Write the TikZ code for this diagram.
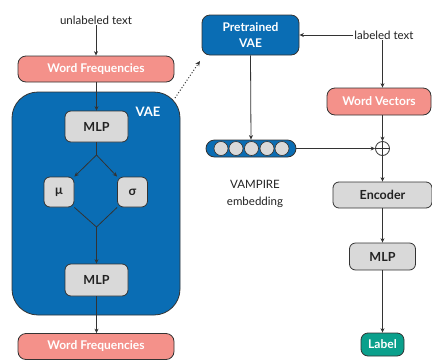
\documentclass[tikz,border=0pt]{standalone}
\usepackage{fontspec}
\setmainfont{Lato}
\usetikzlibrary{arrows.meta}
\definecolor{vaeblue}{HTML}{0A6DB4}
\definecolor{salmon}{HTML}{F4918A}
\definecolor{boxgrey}{HTML}{D9D9D9}
\definecolor{teal}{HTML}{0AA08C}
\definecolor{edge}{HTML}{333333}
\definecolor{txt}{HTML}{222222}
\tikzset{
  base/.style={draw=edge, line width=0.8pt, inner sep=0pt, align=center},
  salmonbox/.style={base, fill=salmon, text=white, rounded corners=8pt, font=\fontsize{12}{13}\selectfont\bfseries},
  greybox/.style={base, fill=boxgrey, text=txt, rounded corners=6pt, font=\fontsize{12.5}{13}\selectfont\bfseries},
  bluebox/.style={base, fill=vaeblue, text=white, rounded corners=8pt, font=\fontsize{12}{16}\selectfont\bfseries},
  plain/.style={text=txt, font=\fontsize{11.5}{13}\selectfont, inner sep=1pt},
  conn/.style={draw=edge, line width=0.8pt, -{Stealth[length=4.5pt,width=4pt]}},
  line/.style={draw=edge, line width=0.8pt},
}
\begin{document}
\begin{tikzpicture}[x=1pt,y=-1pt]
\useasboundingbox (0,0) rectangle (432,360);

% left column: VAE training
\node[plain] (unl) at (96,20) {unlabeled text};
\node[salmonbox, minimum width=156pt, minimum height=26pt] (wf1) at (96,69) {Word Frequencies};
\node[base, fill=vaeblue, rounded corners=26pt, minimum width=168pt, minimum height=223pt] (vae) at (96,203.5) {};
\node[text=white, font=\fontsize{13}{13}\selectfont\bfseries] (vaelbl) at (148,112) {VAE};
\node[greybox, minimum width=63pt, minimum height=31pt] (mlp1) at (96.5,126.5) {MLP};
\node[greybox, minimum width=30pt, minimum height=30pt] (mu) at (59,192) {µ};
\node[greybox, minimum width=30pt, minimum height=30pt] (sigma) at (132.5,192) {σ};
\node[greybox, minimum width=63pt, minimum height=32pt] (mlp2) at (96.5,280) {MLP};
\node[salmonbox, minimum width=156pt, minimum height=26pt] (wf2) at (96,346.5) {Word Frequencies};
\coordinate (split) at (96.5,155);
\coordinate (merge) at (96.5,227);

\draw[conn] (unl.south) -- (unl.south |- wf1.north);
\draw[conn] (wf1.south -| mlp1.north) -- (mlp1.north);
\draw[line] (mlp1.south) -- (split);
\draw[conn] (split) -- (mu.north east);
\draw[conn] (split) -- (sigma.north west);
\draw[line] (mu.south east) -- (merge);
\draw[line] (sigma.south west) -- (merge);
\draw[conn] (merge) -- (mlp2.north);
\draw[conn] (mlp2.south) -- (mlp2.south |- wf2.north);

% right side: classifier
\node[bluebox, minimum width=97pt, minimum height=40pt] (pvae) at (250.5,35) {Pretrained\\VAE};
\node[plain] (lab) at (384,35) {labeled text};
\node[salmonbox, minimum width=104pt, minimum height=27pt] (wv) at (379,101.5) {Word Vectors};
\node[base, fill=vaeblue, rounded corners=8.5pt, minimum width=90pt, minimum height=17pt] (emb) at (251,148.5) {};
\foreach \i/\x in {1/221,2/236,3/251.5,4/267,5/282}
  \node[draw=edge, line width=0.6pt, fill=boxgrey, circle, minimum size=14pt, inner sep=0pt] (e\i) at (\x,148.5) {};
\node[plain, align=center, font=\fontsize{11.5}{17}\selectfont] (vtxt) at (255,193.5) {VAMPIRE\\embedding};
\node[draw=edge, line width=0.8pt, fill=white, circle, minimum size=14pt, inner sep=0pt] (plus) at (382.5,148.5) {};
\draw[edge, line width=0.8pt] (plus.north) -- (plus.south) (plus.west) -- (plus.east);
\node[greybox, minimum width=99pt, minimum height=26pt] (enc) at (382.5,195) {Encoder};
\node[greybox, minimum width=66pt, minimum height=27pt] (mlp3) at (382.5,256.5) {MLP};
\node[base, fill=teal, text=white, rounded corners=7pt, minimum width=43pt, minimum height=23pt, font=\fontsize{12}{13}\selectfont\bfseries] (label) at (382.5,344.5) {Label};

\coordinate (vaecorner) at (175,98);
\draw[edge, line width=1pt, dotted, -{Stealth[length=5pt,width=4.5pt]}] (vaecorner) -- (200,61);
\draw[conn] (lab.west) -- (pvae.east);
\draw[conn] (lab.south -| plus) -- (wv.north -| plus);
\draw[conn] (pvae.south) -- (emb.north);
\draw[conn] (emb.east) -- (plus.west);
\draw[conn] (wv.south -| plus) -- (plus.north);
\draw[conn] (plus.south) -- (enc.north -| plus);
\draw[conn] (enc.south -| mlp3.north) -- (mlp3.north);
\draw[conn] (mlp3.south) -- (label.north);
\end{tikzpicture}
\end{document}
